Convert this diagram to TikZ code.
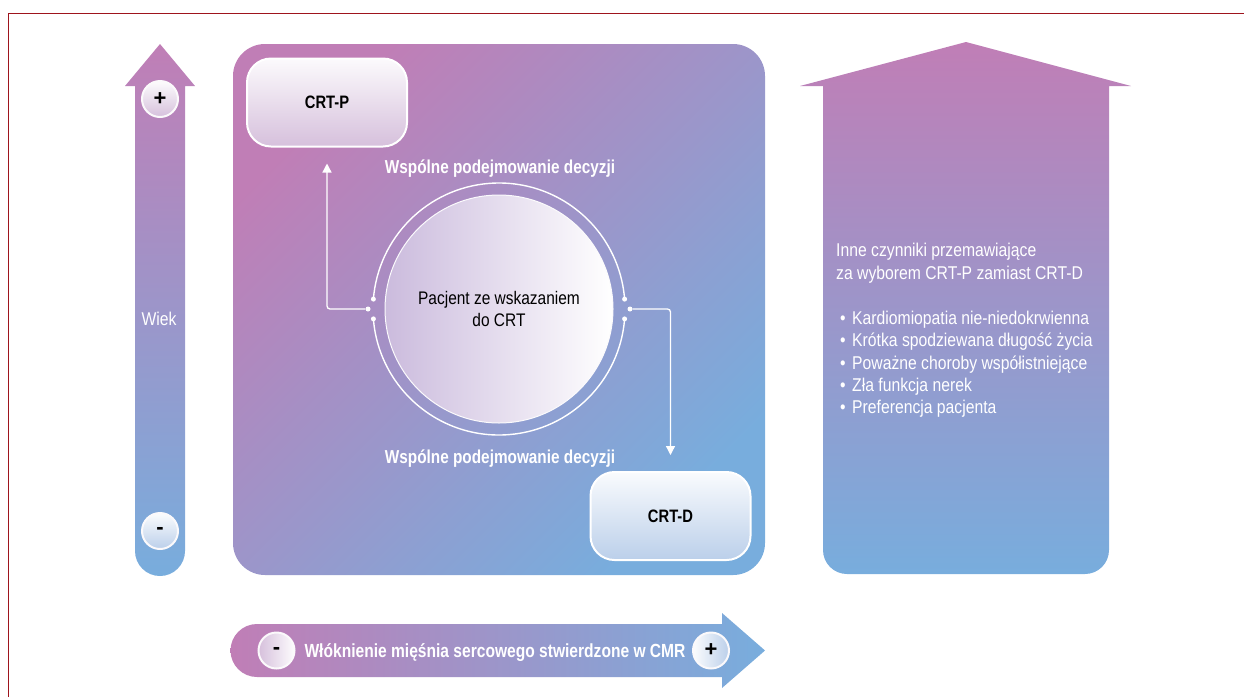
\documentclass[tikz,border=0pt]{standalone}
\usepackage{fontspec}
\setmainfont[FakeStretch=0.85, BoldFeatures={FakeStretch=0.82}]{Liberation Sans}
\newfontfamily\signfont{Liberation Sans}
\usetikzlibrary{arrows.meta}

\definecolor{pinkend}{HTML}{C07EB6}
\definecolor{blueend}{HTML}{78ADDD}
\definecolor{framered}{HTML}{9E141D}
\definecolor{lilacpale}{HTML}{D6C0DC}
\definecolor{bluepale}{HTML}{BBCFEA}
\definecolor{lilacfill}{HTML}{CBBBDD}

\begin{document}
\begin{tikzpicture}[x=1pt,y=-1pt,
  plainlabel/.style={text=white, inner sep=0pt, font=\fontsize{18.5}{22.5}\selectfont},
  boldlabel/.style={text=white, inner sep=0pt, font=\bfseries\fontsize{18.7}{20}\selectfont},
  choicebox/.style={draw=white, line width=2pt, rounded corners=24pt,
    minimum width=160pt, minimum height=88pt, inner sep=0pt,
    text=black, font=\bfseries\fontsize{18}{20}\selectfont},
  signbutton/.style={circle, draw=white!90!lilacpale, line width=2pt,
    minimum size=36pt, inner sep=0pt, text=black,
    font=\signfont\bfseries\fontsize{22}{22}\selectfont},
  ringdot/.style={circle, fill=white, inner sep=0pt, minimum size=5pt},
  ring/.style={draw=white, line width=1.4pt},
  conn/.style={draw=white, line width=1.3pt, rounded corners=3pt,
    -{Triangle[width=9pt,length=9pt]}, shorten >=16pt}
]
\useasboundingbox (0,0) rectangle (1244,697);

% page frame
\draw[framered, line width=1.8pt] (8.5,697) -- (8.5,13.5) -- (1244,13.5);

% age axis (vertical arrow)
\shade[top color=pinkend, bottom color=blueend]
  (135,86) -- (125,86) -- (160,44) -- (195,86) -- (185,86) -- (185,551)
  arc[start angle=0, end angle=-180, radius=25pt] -- cycle;
\node[plainlabel, anchor=base] (age) at (159,325) {Wiek};
\node[signbutton, top color=white!95!lilacpale, bottom color=lilacpale] (agehi) at (160,99) {+};
\node[signbutton, top color=white!95!bluepale, bottom color=bluepale] (agelo) at (160,531) {-};

% decision panel
\shade[rounded corners=32pt, top color=pinkend, bottom color=blueend, shading angle=45]
  (233,44) rectangle (765,575);

\node[choicebox, top color=white!92!lilacpale, bottom color=lilacpale] (crtp) at (327,102.5) {CRT-P};
\node[choicebox, top color=white!92!bluepale, bottom color=bluepale] (crtd) at (670.5,516) {CRT-D};

\node[boldlabel, anchor=base] (sdmtop) at (500,173) {Wspólne podejmowanie decyzji};
\node[boldlabel, anchor=base] (sdmbot) at (500,463) {Wspólne podejmowanie decyzji};

% patient circle with its outer ring
\coordinate (ringc) at (499,309);
\node[circle, minimum size=228pt, inner sep=0pt, draw=white!92!lilacfill, line width=1pt,
      left color=lilacfill, right color=white, align=center, text=black,
      font=\fontsize{18.2}{22.5}\selectfont] (patient) at (ringc)
      {Pacjent ze wskazaniem\\do CRT};
\draw[ring] (ringc) ++(4.5:126pt) arc[start angle=4.5, end angle=175.5, radius=126pt];
\draw[ring] (ringc) ++(184.5:126pt) arc[start angle=184.5, end angle=355.5, radius=126pt];
\node[ringdot] (rtu) at ([shift={(4.5:126pt)}]ringc) {};
\node[ringdot] (rtd) at ([shift={(-4.5:126pt)}]ringc) {};
\node[ringdot] (ltu) at ([shift={(175.5:126pt)}]ringc) {};
\node[ringdot] (ltd) at ([shift={(184.5:126pt)}]ringc) {};
\node[ringdot] (dl) at ([shift={(180:131pt)}]ringc) {};
\node[ringdot] (dr) at ([shift={(0:131pt)}]ringc) {};

\draw[conn] (dl) -| (crtp.south);
\draw[conn] (dr) -| (crtd.north);

% other factors (wide arrow)
\shade[top color=pinkend, bottom color=blueend]
  (823,86) -- (800,86) -- (966,42) -- (1131,86) -- (1109,86) -- (1109,550)
  arc[start angle=0, end angle=-90, radius=24pt] -- (847,574)
  arc[start angle=270, end angle=180, radius=24pt] -- cycle;
\node[plainlabel, anchor=base west] (fa) at (836,256.7) {Inne czynniki przemawiające};
\node[plainlabel, anchor=base west] (fb) at (836,279) {za wyborem CRT-P zamiast CRT-D};
\node[plainlabel, anchor=base west] (f1) at (836,324.5) {\makebox[16pt][l]{\hspace{4pt}•}Kardiomiopatia nie-niedokrwienna};
\node[plainlabel, anchor=base west] (f2) at (836,346.8) {\makebox[16pt][l]{\hspace{4pt}•}Krótka spodziewana długość życia};
\node[plainlabel, anchor=base west] (f3) at (836,369.1) {\makebox[16pt][l]{\hspace{4pt}•}Poważne choroby współistniejące};
\node[plainlabel, anchor=base west] (f4) at (836,391.4) {\makebox[16pt][l]{\hspace{4pt}•}Zła funkcja nerek};
\node[plainlabel, anchor=base west] (f5) at (836,413.7) {\makebox[16pt][l]{\hspace{4pt}•}Preferencja pacjenta};

% fibrosis axis (horizontal arrow)
\shade[left color=pinkend, right color=blueend]
  (257,624) -- (722,624) -- (722,613) -- (765,650.5) -- (722,688) -- (722,677) -- (257,677)
  arc[start angle=270, end angle=90, radius=26.5pt] -- cycle;
\node[boldlabel, anchor=base, font=\bfseries\fontsize{19}{20}\selectfont] (fib) at (495,657) {Włóknienie mięśnia sercowego stwierdzone w CMR};
\node[signbutton, left color=lilacpale, right color=white!95!lilacpale] (fiblo) at (276.5,650.5) {-};
\node[signbutton, left color=white!95!bluepale, right color=bluepale] (fibhi) at (711,650.5) {+};
\end{tikzpicture}
\end{document}
